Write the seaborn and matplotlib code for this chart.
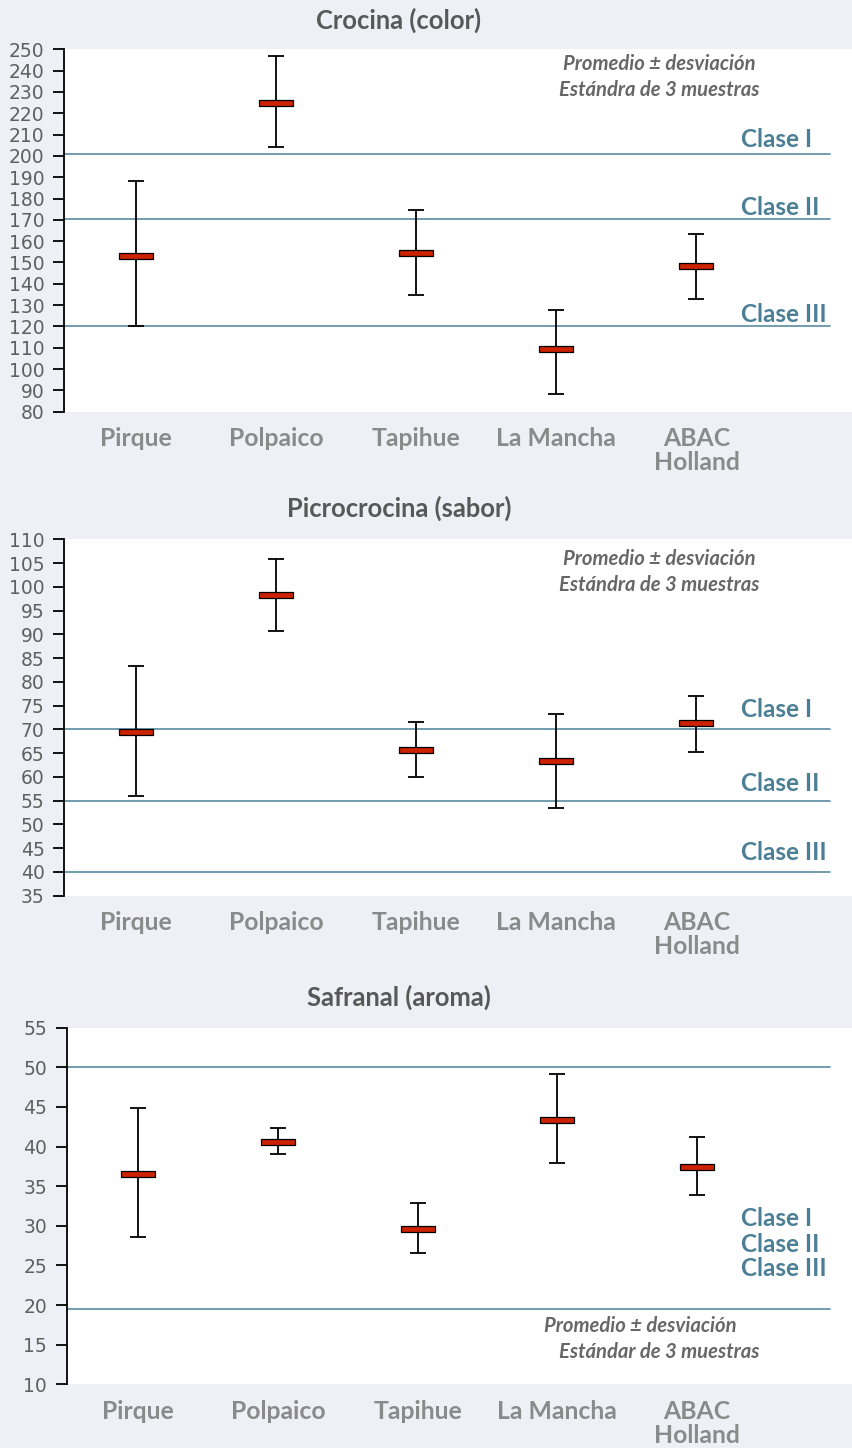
import numpy as np
import pandas as pd
import matplotlib
matplotlib.use('Agg')
import matplotlib.pyplot as plt
import matplotlib.transforms as mtransforms
import seaborn as sns

# datos (promedio y extremos de la barra de error)
origenes = ['Pirque', 'Polpaico', 'Tapihue', 'La Mancha', 'ABAC\nHolland']

crocina_media = [153, 224.8, 154.3, 109.3, 148.5]
crocina_sup = [188.1, 246.7, 174.8, 127.7, 163.5]
crocina_inf = [120.3, 204.0, 134.9, 88.2, 133.0]
crocina_clases = [201, 170.5, 120]

picro_media = [69.4, 98.3, 65.6, 63.3, 71.4]
picro_sup = [83.3, 105.9, 71.6, 73.2, 77.0]
picro_inf = [56.0, 90.6, 60.0, 53.4, 65.3]
picro_clases = [70, 55, 40]

safranal_media = [36.5, 40.6, 29.6, 43.3, 37.4]
safranal_sup = [44.9, 42.3, 32.9, 49.1, 41.2]
safranal_inf = [28.6, 39.0, 26.6, 37.9, 33.9]
safranal_clases = [50, 19.5]

clases = ['Clase I', 'Clase II', 'Clase III']

FONDO = '#efeff6'
AZUL = '#4b7f96'
LINEA = '#5a8ba2'
ROJO = '#cc2200'
GRIS_TIT = '#585858'
GRIS_CAT = '#8a8a8a'
GRIS_NOTA = '#676767'
LATO = ['Lato', 'DejaVu Sans']

sns.set_theme(style='ticks', rc={'figure.facecolor': FONDO, 'axes.facecolor': 'white'})
plt.rcParams['font.family'] = ['DejaVu Sans']

W, H = 852, 1448
fig = plt.figure(figsize=(W / 100, H / 100), dpi=100)

# rectangulo horizontal para el promedio
rect = [(-0.5, -0.075), (0.5, -0.075), (0.5, 0.075), (-0.5, 0.075), (-0.5, -0.075)]

paneles = [
    dict(titulo='Crocina (color)', media=crocina_media, sup=crocina_sup, inf=crocina_inf,
         lineas=crocina_clases, ylim=(80, 250), paso=10, caja=(64, 49.3, 411.7), tit_y=20,
         clase_y=[207.9, 176.0, 125.8],
         nota=[('Promedio ± desviación', 0.755, 0.959), ('Estándra de 3 muestras', 0.755, 0.888)]),
    dict(titulo='Picrocrocina (sabor)', media=picro_media, sup=picro_sup, inf=picro_inf,
         lineas=picro_clases, ylim=(35, 110), paso=5, caja=(64, 539.3, 895.7), tit_y=508,
         clase_y=[74.1, 58.7, 44.0],
         nota=[('Promedio ± desviación', 0.755, 0.945), ('Estándra de 3 muestras', 0.755, 0.872)]),
    dict(titulo='Safranal (aroma)', media=safranal_media, sup=safranal_sup, inf=safranal_inf,
         lineas=safranal_clases, ylim=(10, 55), paso=5, caja=(66.5, 1027.7, 1384.3), tit_y=997,
         clase_y=[30.9, 27.7, 24.55],
         nota=[('Promedio ± desviación', 0.731, 0.1635), ('Estándar de 3 muestras', 0.754, 0.0906)]),
]

x = np.arange(len(origenes))

for p in paneles:
    izq, arriba, abajo = p['caja']
    ax = fig.add_axes([izq / W, 1 - abajo / H, (W - izq) / W, (abajo - arriba) / H])

    media = np.array(p['media'])
    err = [media - np.array(p['inf']), np.array(p['sup']) - media]

    for yl in p['lineas']:
        ax.axhline(yl, xmin=0, xmax=0.972, color=LINEA, lw=1.2, zorder=1)

    ax.errorbar(x, media, yerr=err, fmt='none', ecolor='black', elinewidth=1.3,
                capsize=5.8, capthick=1.3, zorder=2)
    df = pd.DataFrame({'x': x, 'media': media})
    sns.scatterplot(data=df, x='x', y='media', marker=rect, s=600, color=ROJO,
                    edgecolor='black', linewidth=0.9, zorder=3, ax=ax, legend=False)

    ax.set_xlim(-0.514, 5.11)
    ax.set_ylim(*p['ylim'])
    ax.set_yticks(np.arange(p['ylim'][0], p['ylim'][1] + 0.1, p['paso']))
    ax.tick_params(axis='y', length=8, width=1.3, color='black', labelsize=13.5,
                   labelcolor='#606060', pad=6)
    ax.set_xticks(x)
    ax.set_xticklabels(origenes, family=LATO, weight='bold',
                       fontsize=17.8, color=GRIS_CAT, linespacing=1.05)
    ax.tick_params(axis='x', length=0, pad=11)
    ax.set_xlabel('')
    ax.set_ylabel('')
    sns.despine(ax=ax, top=True, right=True, bottom=True)
    ax.spines['left'].set_color('black')
    ax.spines['left'].set_linewidth(1.3)

    trans = mtransforms.blended_transform_factory(ax.transAxes, ax.transData)
    for nombre, yc in zip(clases, p['clase_y']):
        ax.text((741 - izq) / (W - izq), yc, nombre, transform=trans,
                ha='left', va='center', family=LATO, weight='bold',
                fontsize=17.5, color=AZUL)

    for texto, xf, yf in p['nota']:
        ax.text(xf, yf, texto, transform=ax.transAxes, ha='center', va='center',
                family=LATO, weight='bold', style='italic',
                fontsize=14.6, color=GRIS_NOTA)

    fig.text(399 / W, 1 - p['tit_y'] / H, p['titulo'], ha='center', va='center',
             family=LATO, weight='bold', fontsize=18.4, color=GRIS_TIT)

fig.savefig('out.png', dpi=100, facecolor=FONDO)
